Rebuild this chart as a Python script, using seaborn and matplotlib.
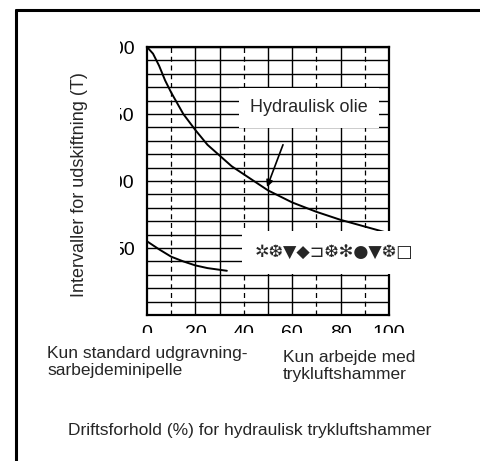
import matplotlib
matplotlib.use("Agg")
import matplotlib.pyplot as plt
from matplotlib.transforms import Bbox, TransformedBbox
import seaborn as sns

# Replacement interval curves (T) against hydraulic breaker share (%)
oil_x = [0, 2.5, 5, 7.5, 10, 15, 20, 25, 30, 35, 40, 45, 50, 60, 70, 80, 90, 100]
oil_y = [200, 195, 186, 175, 166, 150, 138, 127, 119, 111, 105, 99, 93, 84, 77, 71, 66, 61]
filter_x = [0, 5, 10, 15, 20, 25, 33]
filter_y = [55, 49, 43.5, 40, 37, 35, 33]

x_ticks = [0, 20, 40, 60, 80, 100]
y_ticks = [50, 100, 150, 200]
symbols = "✲❆▼◆⊐❆✻●▼❆□"

sns.set_theme(style="white")
plt.rcParams["font.family"] = ["Liberation Sans", "DejaVu Sans"]

fig = plt.figure(figsize=(4.81, 4.61), dpi=100)
ax = fig.add_axes([147 / 481, 1 - 315 / 461, 242 / 481, 268 / 461])

ax.set_xlim(0, 100)
ax.set_ylim(0, 200)

# ruled paper grid
ax.set_yticks(range(0, 201, 10), minor=True)
ax.yaxis.grid(True, which="both", color="black", lw=1.0)
for gx in range(10, 100, 10):
    if gx in (10, 40, 70, 90):
        ax.axvline(gx, color="black", lw=0.9, ls=(0, (4, 3)), zorder=1)
    else:
        ax.axvline(gx, color="black", lw=1.0, zorder=1)
ax.set_axisbelow(True)

sns.lineplot(x=oil_x, y=oil_y, color="black", lw=1.4, ax=ax, zorder=3)
sns.lineplot(x=filter_x, y=filter_y, color="black", lw=1.4, ax=ax, zorder=3)

for s in ax.spines.values():
    s.set_color("black")
    s.set_linewidth(1.6)

ax.set_xticks(x_ticks)
ax.set_yticks(y_ticks)
ax.set_xticklabels([str(v) for v in x_ticks])
ax.set_yticklabels([str(v) for v in y_ticks])
ax.tick_params(axis="both", which="both", length=0, labelsize=14, colors="black")
ax.tick_params(axis="x", pad=7)
ax.tick_params(axis="y", pad=9)
ax.set_xlabel("")
ax.set_ylabel("")

# tick labels are trimmed at the frame edges
ybox = TransformedBbox(Bbox([[120 / 481, 0], [147 / 481, 1]]), fig.transFigure)
xbox = TransformedBbox(Bbox([[0, 128 / 461], [1, 1]]), fig.transFigure)
for lab in ax.get_yticklabels():
    lab.set_clip_box(ybox)
    lab.set_clip_on(True)
for lab in ax.get_xticklabels():
    lab.set_clip_box(xbox)
    lab.set_clip_on(True)

ax.text(42.5, 154.5, "Hydraulisk olie", fontsize=13, ha="left", va="center",
        zorder=4, bbox=dict(facecolor="white", edgecolor="none", pad=8))
ax.annotate("", xy=(49.2, 93.5), xytext=(56.6, 129),
            arrowprops=dict(arrowstyle="-|>", color="black", lw=1.2,
                            mutation_scale=10), zorder=4)
ax.text(77.3, 47, symbols, fontsize=12.5, ha="center", va="center",
        family=["DejaVu Sans"], zorder=4,
        bbox=dict(facecolor="white", edgecolor="none", pad=9))

fig.text(80 / 481, 1 - 185 / 461, "Intervaller for udskiftning (T)", rotation=90,
         fontsize=13, ha="center", va="center")
fig.text(47 / 481, 1 - 362 / 461, "Kun standard udgravning-\nsarbejdeminipelle",
         fontsize=12.5, ha="left", va="center", linespacing=1.15)
fig.text(283 / 481, 1 - 366 / 461, "Kun arbejde med\ntrykluftshammer",
         fontsize=12.5, ha="left", va="center", linespacing=1.15)
fig.text(250 / 481, 1 - 430 / 461, "Driftsforhold (%) for hydraulisk trykluftshammer",
         fontsize=12.5, ha="center", va="center")

# outer frame
fig.add_artist(plt.Line2D([16 / 481, 1], [1 - 10 / 461] * 2, color="black", lw=2.2,
                          transform=fig.transFigure))
fig.add_artist(plt.Line2D([16 / 481] * 2, [0, 1 - 10 / 461], color="black", lw=2.2,
                          transform=fig.transFigure))

fig.savefig("out.png", dpi=100, facecolor="white")
